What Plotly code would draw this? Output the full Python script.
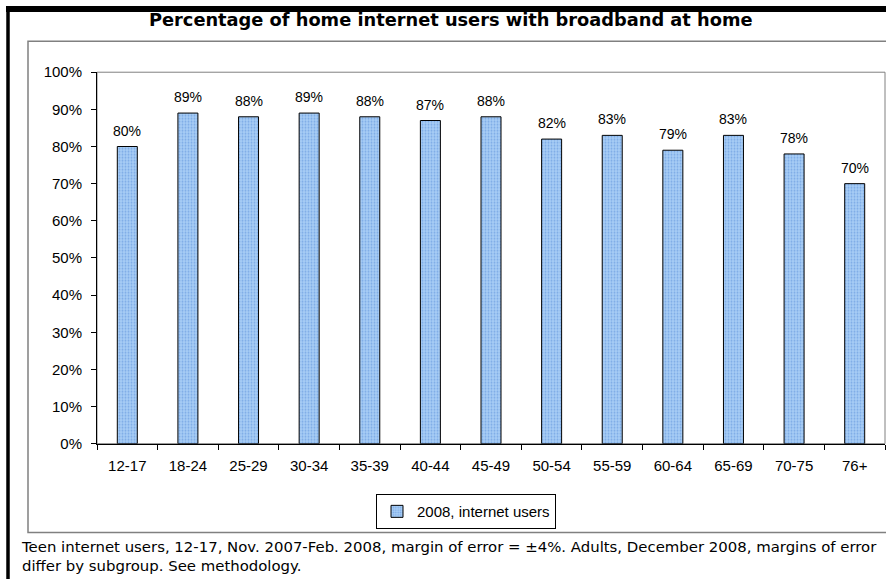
import plotly.graph_objects as go

categories = ["12-17", "18-24", "25-29", "30-34", "35-39", "40-44", "45-49",
              "50-54", "55-59", "60-64", "65-69", "70-75", "76+"]
values = [80, 89, 88, 89, 88, 87, 88, 82, 83, 79, 83, 78, 70]
series_name = "2008, internet users"
y_ticks = [0, 10, 20, 30, 40, 50, 60, 70, 80, 90, 100]
y_tick_labels = [f"{v}%" for v in y_ticks]
title_text = "Percentage of home internet users with broadband at home"
footer_text = ("Teen internet users, 12-17, Nov. 2007-Feb. 2008, margin of error = ±4%. "
               "Adults, December 2008, margins of error<br>differ by subgroup. See methodology.")

W, H = 886, 579
FONT = "Liberation Sans, Arial, sans-serif"
WIDE = "DejaVu Sans, Verdana, sans-serif"

# layout helpers: convert target picture pixels to paper fractions
V_SCALE, V_OFF = 0.972, 7.7

def px(x):
    return x / W

def py(y):
    fy = (y - V_OFF) / V_SCALE
    return 1 - fy / H

fig = go.Figure()
fig.add_trace(go.Bar(
    x=categories, y=values, name=series_name,
    marker=dict(
        color="#A8CDF5",
        line=dict(color="#000000", width=1),
        pattern=dict(shape=".", fgcolor="#4F86D6", bgcolor="#A8CDF5", size=3, solidity=0.35),
    ),
    showlegend=True,
))

annotations = []
for c, v in zip(categories, values):
    annotations.append(dict(
        x=c, y=v, xref="x", yref="y", text=f"{v}%", showarrow=False,
        yanchor="bottom", yshift=6, font=dict(family=FONT, size=14, color="#000000"),
    ))
annotations.append(dict(
    x=px(451), y=py(18), xref="paper", yref="paper", text=f"<b>{title_text}</b>",
    showarrow=False, xanchor="center", yanchor="middle",
    font=dict(family=WIDE, size=17.8, color="#000000"),
))
annotations.append(dict(
    x=px(19), y=py(535), xref="paper", yref="paper", text=footer_text,
    showarrow=False, xanchor="left", yanchor="top", align="left",
    font=dict(family=WIDE, size=14.9, color="#000000"),
))

shapes = [
    # outer chart box
    dict(type="rect", xref="paper", yref="paper", x0=px(28), x1=px(890), y0=py(532), y1=py(40),
         line=dict(color="#808080", width=1.5), layer="below"),
    # plot area border
    dict(type="rect", xref="paper", yref="paper", x0=px(97), x1=px(885), y0=py(443), y1=py(71),
         line=dict(color="#808080", width=1), layer="below"),
    # heavy black frame (left and top)
    dict(type="line", xref="paper", yref="paper", x0=px(8), x1=px(8), y0=-0.02, y1=1.0,
         line=dict(color="#000000", width=3.5)),
    dict(type="line", xref="paper", yref="paper", x0=px(6), x1=px(890), y0=1.0, y1=1.0,
         line=dict(color="#000000", width=6)),
]

fig.update_layout(
    width=W, height=H,
    margin=dict(l=0, r=0, t=0, b=0),
    paper_bgcolor="#FFFFFF", plot_bgcolor="#FFFFFF",
    font=dict(family=FONT, size=15, color="#000000"),
    bargap=0.67,
    xaxis=dict(
        domain=[px(97), px(885)],
        showline=True, linecolor="#000000", linewidth=1,
        ticks="outside", tickson="boundaries", ticklen=5, tickcolor="#000000",
        ticklabelstandoff=8,
        showgrid=False, tickfont=dict(family=FONT, size=15, color="#000000"),
    ),
    yaxis=dict(
        domain=[py(443), py(71)],
        range=[0, 100], tickvals=y_ticks, ticktext=y_tick_labels,
        showline=True, linecolor="#000000", linewidth=1,
        ticks="outside", ticklen=5, tickcolor="#000000",
        ticklabelstandoff=6,
        showgrid=False, zeroline=False,
        tickfont=dict(family=FONT, size=15, color="#000000"),
    ),
    legend=dict(
        x=px(556), y=py(511), xanchor="right", yanchor="middle",
        bordercolor="#000000", borderwidth=1, bgcolor="#FFFFFF",
        font=dict(family=FONT, size=15, color="#000000"),
        itemwidth=30,
    ),
    annotations=annotations,
    shapes=shapes,
)

post = (
    "var s=document.createElement('style');"
    "s.textContent='html,body{margin:0!important;padding:0!important;overflow:hidden;}';"
    "document.head.appendChild(s);"
)

fig.write_html("out.html", config={"displayModeBar": False}, post_script=post)
